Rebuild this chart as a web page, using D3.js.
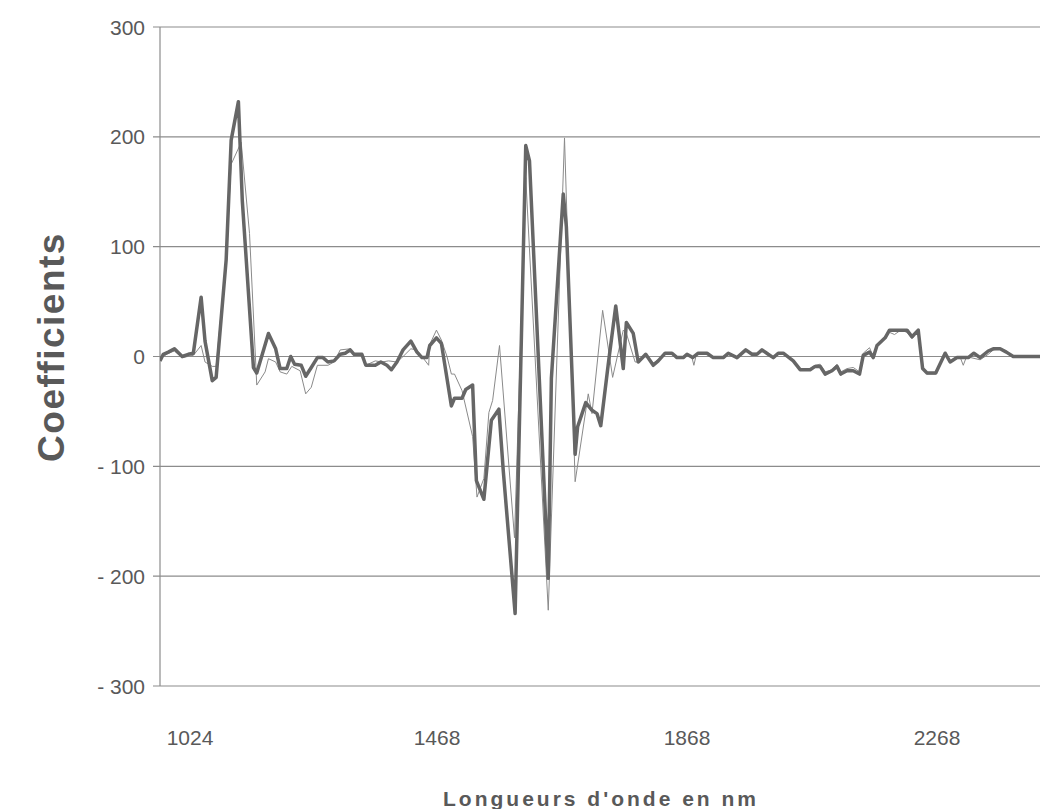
<!DOCTYPE html>
<html>
<head>
<meta charset="utf-8">
<script src="https://cdn.jsdelivr.net/npm/d3@7"></script>
<style>
  body { margin: 0; background: #fff; }
  text { font-family: "Liberation Sans", Arial, sans-serif; fill: #595959; }
</style>
</head>
<body>
<svg width="1040" height="809"></svg>
<script>
// wavelength labels on the x axis
const xTickLabels = [1024, 1468, 1868, 2268];
const yTicks = [300, 200, 100, 0, -100, -200, -300];

// thick series (nm, coefficient)
const thickWl = [970, 976, 985, 996, 1010, 1021, 1030, 1044, 1051, 1064, 1071, 1089, 1098, 1111, 1118,
  1138, 1144, 1165, 1178, 1186, 1198, 1205, 1212, 1224, 1232, 1242, 1253, 1263, 1272, 1283, 1294,
  1303, 1312, 1319, 1333, 1340, 1357, 1367, 1378, 1386, 1396, 1407, 1421, 1432, 1441, 1450, 1455,
  1467, 1475, 1491, 1496, 1508, 1514, 1525, 1531, 1543, 1555, 1567, 1574, 1593, 1610, 1616, 1646,
  1651, 1670, 1675, 1689, 1693, 1706, 1716, 1724, 1730, 1742, 1754, 1766, 1771, 1782, 1790, 1802,
  1814, 1822, 1833, 1844, 1852, 1862, 1868, 1877, 1886, 1900, 1910, 1926, 1934, 1948, 1962, 1972,
  1980, 1988, 1998, 2006, 2014, 2022, 2038, 2049, 2065, 2073, 2081, 2089, 2100, 2108, 2114, 2124,
  2134, 2144, 2150, 2160, 2166, 2172, 2185, 2192, 2220, 2228, 2238, 2245, 2252, 2266, 2281, 2289,
  2300, 2318, 2327, 2337, 2350, 2358, 2369, 2379, 2390, 2433];
const thickVal = [-4, 2, 4, 7, 0, 2, 3, 54, 14, -22, -19, 88, 197, 232, 142,
  -10, -15, 21, 7, -11, -11, 0, -7, -8, -18, -10, -1, -1, -5, -4, 2,
  3, 6, 2, 2, -8, -8, -5, -8, -12, -5, 6, 14, 4, -1, -1, 10,
  17, 12, -45, -38, -38, -30, -26, -113, -130, -58, -48, -104, -234, 192, 178, -202,
  -20, 148, 118, -89, -64, -42, -49, -52, -63, -7, 46, -11, 31, 21, -5, 2,
  -8, -4, 3, 3, -1, -1, 2, -1, 3, 3, -1, -1, 3, -1, 6, 2,
  2, 6, 2, -1, 3, 3, -4, -12, -12, -9, -9, -16, -13, -9, -16, -13,
  -13, -16, 1, 4, -1, 10, 17, 24, 24, 18, 24, -11, -15, -15, 3, -5,
  -1, -1, 3, -1, 5, 7, 7, 4, 0, 0];

// thin series (nm, coefficient)
const thinWl = [976, 985, 996, 1010, 1030, 1044, 1051, 1064, 1071, 1089, 1098, 1116, 1131, 1144,
  1159, 1165, 1178, 1186, 1198, 1207, 1222, 1232, 1242, 1253, 1272, 1283, 1294, 1312, 1319, 1333,
  1340, 1357, 1369, 1381, 1396, 1407, 1421, 1432, 1441, 1453, 1455, 1467, 1475, 1484, 1491, 1496,
  1508, 1525, 1532, 1543, 1551, 1557, 1568, 1592, 1610, 1646, 1672, 1689, 1710, 1716, 1733, 1749,
  1766, 1771, 1785, 1790, 1802, 1814, 1822, 1833, 1844, 1852, 1862, 1875, 1879, 1883, 1900, 1910,
  1926, 1934, 1948, 1962, 1972, 1980, 1988, 1998, 2006, 2014, 2022, 2038, 2049, 2065, 2073, 2081,
  2089, 2100, 2108, 2114, 2124, 2134, 2144, 2150, 2160, 2166, 2172, 2185, 2192, 2200, 2210, 2220,
  2228, 2238, 2245, 2252, 2266, 2281, 2289, 2300, 2306, 2310, 2314, 2322, 2337, 2350, 2358, 2369,
  2379, 2390, 2433];
const thinVal = [0, 3, 5, -1, 1, 10, -5, -9, -9, 90, 175, 195, 112, -26,
  -14, -2, -5, -14, -16, -9, -13, -34, -28, -8, -8, -5, 6, 7, 2, 1,
  -8, -4, -5, -4, -5, 0, 7, 6, 0, -8, 11, 24, 15, 0, -16, -16,
  -31, -73, -128, -111, -51, -40, 10, -165, 163, -231, 199, -114, -34, -52, 42, -19,
  24, 21, -5, -5, 2, -6, -3, 2, 2, 0, 0, 1, -8, 2, 3, -1,
  -1, 3, -1, 5, 3, 3, 6, 2, -1, 3, 3, -3, -11, -11, -8, -7,
  -14, -12, -7, -14, -11, -10, -14, 3, 8, 0, 10, 17, 22, 20, 24, 22,
  16, 24, -10, -16, -16, 2, -4, 0, -2, -8, -2, -1, -3, 2, 6, 7,
  4, 0, 0];

const svg = d3.select("svg");
const plotLeft = 160, plotRight = 1040, plotTop = 27, plotBottom = 686;

// category-like axis: labels spaced evenly, wavelengths are not
const x = d3.scaleLinear()
  .domain(xTickLabels)
  .range([190, 437, 687, 937]);

const y = d3.scaleLinear()
  .domain([-300, 300])
  .range([plotBottom, plotTop]);

// gridlines
svg.append("g")
  .selectAll("line")
  .data(yTicks)
  .join("line")
  .attr("x1", plotLeft - 7)
  .attr("x2", plotRight)
  .attr("y1", d => y(d))
  .attr("y2", d => y(d))
  .attr("stroke", "#8c8c8c")
  .attr("stroke-width", 1.2);

// y axis line
svg.append("line")
  .attr("x1", plotLeft).attr("x2", plotLeft)
  .attr("y1", plotTop).attr("y2", plotBottom)
  .attr("stroke", "#8c8c8c")
  .attr("stroke-width", 1.2);

// y tick labels
svg.append("g")
  .selectAll("text")
  .data(yTicks)
  .join("text")
  .attr("x", plotLeft - 15)
  .attr("y", d => y(d))
  .attr("dy", "0.36em")
  .attr("text-anchor", "end")
  .style("font-size", "21px")
  .text(d => d < 0 ? "- " + Math.abs(d) : d);

// x tick labels
svg.append("g")
  .selectAll("text")
  .data(xTickLabels)
  .join("text")
  .attr("x", d => x(d))
  .attr("y", 745)
  .attr("text-anchor", "middle")
  .style("font-size", "21px")
  .text(d => d);

const line = d3.line()
  .x(d => x(d[0]))
  .y(d => y(d[1]));

svg.append("clipPath").attr("id", "plot")
  .append("rect")
  .attr("x", plotLeft).attr("y", 0)
  .attr("width", plotRight - plotLeft).attr("height", 809);

svg.append("path")
  .datum(d3.zip(thinWl, thinVal))
  .attr("clip-path", "url(#plot)")
  .attr("d", line)
  .attr("fill", "none")
  .attr("stroke", "#8a8a8a")
  .attr("stroke-width", 1);

svg.append("path")
  .datum(d3.zip(thickWl, thickVal))
  .attr("clip-path", "url(#plot)")
  .attr("d", line)
  .attr("fill", "none")
  .attr("stroke", "#666666")
  .attr("stroke-width", 3.5)
  .attr("stroke-linejoin", "round");

// axis titles
svg.append("text")
  .attr("transform", "translate(64,347) rotate(-90)")
  .attr("text-anchor", "middle")
  .style("font-size", "37px")
  .style("font-weight", "bold")
  .style("letter-spacing", "1.5px")
  .text("Coefficients");

svg.append("text")
  .attr("x", 601)
  .attr("y", 806)
  .attr("text-anchor", "middle")
  .style("font-size", "21px")
  .style("font-weight", "bold")
  .style("letter-spacing", "3px")
  .text("Longueurs d'onde en nm");
</script>
</body>
</html>
